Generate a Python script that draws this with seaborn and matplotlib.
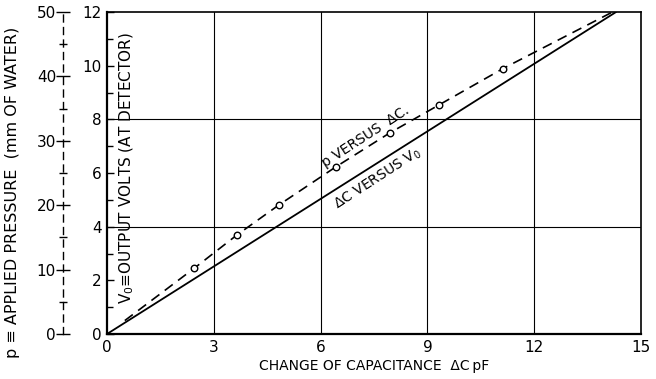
import matplotlib
matplotlib.use("Agg")
import matplotlib.pyplot as plt
import numpy as np
import pandas as pd
import seaborn as sns

# measured points, p versus dC (in volts-equivalent units)
circle_dc = [2.45, 3.65, 4.83, 6.43, 7.95, 9.33, 11.12]
circle_v = [2.45, 3.69, 4.81, 6.23, 7.50, 8.54, 9.89]

# dashed curve through the points
dash_dc = [0.5, 2.45, 3.65, 4.83, 6.43, 7.95, 9.33, 11.12, 14.2]
dash_v = [0.5, 2.45, 3.69, 4.81, 6.23, 7.50, 8.54, 9.89, 12.0]

# straight line dC versus Vo
solid_dc = [0.0, 14.3]
solid_v = [0.0, 12.0]

x_ticks = [0, 3, 6, 9, 12, 15]
y_ticks = [0, 2, 4, 6, 8, 10, 12]
p_ticks = [0, 10, 20, 30, 40, 50]

def main():
    sns.set_theme(style="white")
    plt.rcParams['font.family'] = ['DejaVu Sans']
    plt.rcParams['text.color'] = 'black'
    plt.rcParams['axes.labelcolor'] = 'black'
    plt.rcParams['xtick.color'] = 'black'
    plt.rcParams['ytick.color'] = 'black'

    fig = plt.figure(figsize=(6.56, 3.79), dpi=100)
    W, H = 656, 379
    left, right, bottom, top = 107, 641, 334, 12
    ax = fig.add_axes([left / W, (H - bottom) / H, (right - left) / W, (bottom - top) / H])

    for xv in [3, 6, 9, 12]:
        ax.axvline(xv, color='black', lw=0.8, zorder=1)
    for yv in [4, 8]:
        ax.axhline(yv, color='black', lw=0.8, zorder=1)

    sns.lineplot(x=solid_dc, y=solid_v, ax=ax, color='black', lw=1.3, zorder=3)
    dash = pd.DataFrame({'dc': dash_dc, 'v': dash_v})
    sns.lineplot(data=dash, x='dc', y='v', ax=ax, color='black', lw=1.2,
                 linestyle=(0, (6, 4)), sort=False, zorder=3)
    sns.scatterplot(x=circle_dc, y=circle_v, ax=ax, marker='o', s=22,
                    facecolor='white', edgecolor='black', linewidth=1.0, zorder=4)

    ax.set_xlim(0, 15)
    ax.set_ylim(0, 12)
    ax.set_xticks(x_ticks)
    ax.set_yticks(y_ticks)
    ax.set_yticks(np.arange(0, 13, 1), minor=True)
    ax.tick_params(axis='y', which='major', direction='in', length=5, width=1,
                   labelsize=11, pad=4, left=True)
    ax.tick_params(axis='y', which='minor', direction='in', length=4, width=1, left=True)
    ax.tick_params(axis='x', which='major', length=0, labelsize=11, pad=4)
    for s in ax.spines.values():
        s.set_color('black')
        s.set_linewidth(1.2)
    ax.spines['left'].set_linewidth(1.6)
    ax.spines['bottom'].set_linewidth(1.6)

    ax.set_xlabel('CHANGE OF CAPACITANCE  \u0394C\u2009pF', fontsize=10, labelpad=3)
    ax.set_ylabel('')
    ax.text(0.55, 6.2, 'V$_0$\u2261OUTPUT VOLTS (AT DETECTOR)', rotation=90,
            ha='center', va='center', fontsize=11)

    ax.text(7.25, 7.35, 'p VERSUS  \u0394C.', rotation=33, ha='center', va='center',
            fontsize=10, rotation_mode='anchor')
    ax.text(7.6, 5.8, '\u0394C VERSUS V$_0$', rotation=33, ha='center', va='center',
            fontsize=10, rotation_mode='anchor')

    # pressure scale on the far left
    pax = fig.add_axes([63 / W, (H - bottom) / H, 0.001, (bottom - top) / H])
    pax.set_ylim(0, 50)
    pax.set_xticks([])
    pax.set_yticks(p_ticks)
    pax.set_yticks(np.arange(5, 50, 10), minor=True)
    for name, s in pax.spines.items():
        s.set_visible(name == 'left')
    pax.spines['left'].set_linestyle((0, (5, 4)))
    pax.spines['left'].set_color('black')
    pax.spines['left'].set_linewidth(1.0)
    pax.patch.set_alpha(0)
    pax.tick_params(axis='y', which='major', direction='inout', length=10, width=1,
                    labelsize=11, pad=0, left=True)
    pax.tick_params(axis='y', which='minor', direction='inout', length=6, width=1, left=True)
    fig.text(13 / W, 1 - 192 / H, 'p \u2261 APPLIED PRESSURE  (mm OF WATER)',
             rotation=90, ha='center', va='center', fontsize=11.5)

    fig.savefig('out.png', dpi=100)

if __name__ == "__main__":
    main()
